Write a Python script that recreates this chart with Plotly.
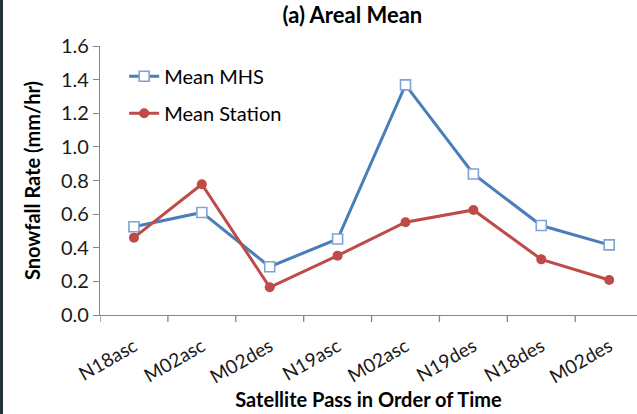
import plotly.graph_objects as go

# Satellite passes in order of time
passes = ["N18asc", "M02asc", "M02des", "N19asc", "M02asc", "N19des", "N18des", "M02des"]
# Areal mean snowfall rate (mm/hr)
mean_mhs = [0.525, 0.61, 0.287, 0.452, 1.369, 0.839, 0.532, 0.417]
mean_station = [0.46, 0.778, 0.165, 0.353, 0.552, 0.625, 0.331, 0.208]

FONT = "Lato"
BLUE = "#4A7EBB"
RED = "#BE4B48"
AXIS = "#868686"

x_idx = list(range(len(passes)))

fig = go.Figure()
fig.add_trace(go.Scatter(
    x=x_idx, y=mean_mhs, name="Mean MHS", mode="lines+markers",
    legendgroup="mhs",
    line=dict(color=BLUE, width=3),
    marker=dict(symbol="square", size=10, color="white",
                line=dict(color="#7FA3D3", width=1.6)),
))
fig.add_trace(go.Scatter(
    x=x_idx, y=mean_station, name="Mean Station", mode="lines+markers",
    legendgroup="station",
    line=dict(color=RED, width=3),
    marker=dict(symbol="circle", size=10, color=RED),
))

fig.update_layout(
    width=637, height=414,
    margin=dict(l=100, r=0, t=46, b=99),
    paper_bgcolor="white", plot_bgcolor="white",
    font=dict(family=FONT, color="#1a1a1a"),
    title=dict(text="<b>(a) Areal Mean</b>", x=0.47, xref="paper",
               xanchor="center", y=0.963, yref="container", yanchor="middle",
               font=dict(size=22, family=FONT, color="black")),
    legend=dict(x=0.045, y=0.96, xanchor="left", yanchor="top",
                bgcolor="rgba(0,0,0,0)", font=dict(size=20, family=FONT, color="black"),
                tracegroupgap=8, itemwidth=30),
    showlegend=True,
)

fig.update_xaxes(
    range=[-0.5, 7.41], tickmode="array", tickvals=x_idx, ticktext=passes,
    tickangle=-30, showgrid=False, zeroline=False,
    showline=True, linecolor=AXIS, linewidth=1.3,
    ticks="outside", ticklen=12, tickcolor="rgba(0,0,0,0)", tickwidth=1,
    tickfont=dict(size=19, family=FONT, color="#1a1a1a"),
    title=dict(text="<b>Satellite Pass in Order of Time</b>",
               font=dict(size=20, family=FONT, color="black"), standoff=4),
)
fig.update_yaxes(
    range=[0, 1.6], dtick=0.2, tickformat=".1f", showgrid=False, zeroline=False,
    showline=True, linecolor=AXIS, linewidth=1.3,
    ticks="outside", ticklen=6, tickcolor=AXIS, tickwidth=1.3,
    tickfont=dict(size=20, family=FONT, color="#1a1a1a"),
    title=dict(text="<b>Snowfall Rate (mm/hr)</b>",
               font=dict(size=20, family=FONT, color="black"), standoff=14),
)

# tick marks on the boundaries between categories
for b in [i - 0.5 for i in range(len(passes))]:
    fig.add_shape(type="line", xref="x", yref="paper", x0=b, x1=b, y0=0, y1=-0.026,
                  line=dict(color=AXIS, width=1.3))

# dark strip along the left edge
fig.add_shape(type="rect", xref="paper", yref="paper",
              x0=-100 / 537, x1=-97 / 537, y0=-99 / 269, y1=1 + 46 / 269,
              fillcolor="#26323a", line=dict(width=0), layer="above")

fig.write_html("out.html")
